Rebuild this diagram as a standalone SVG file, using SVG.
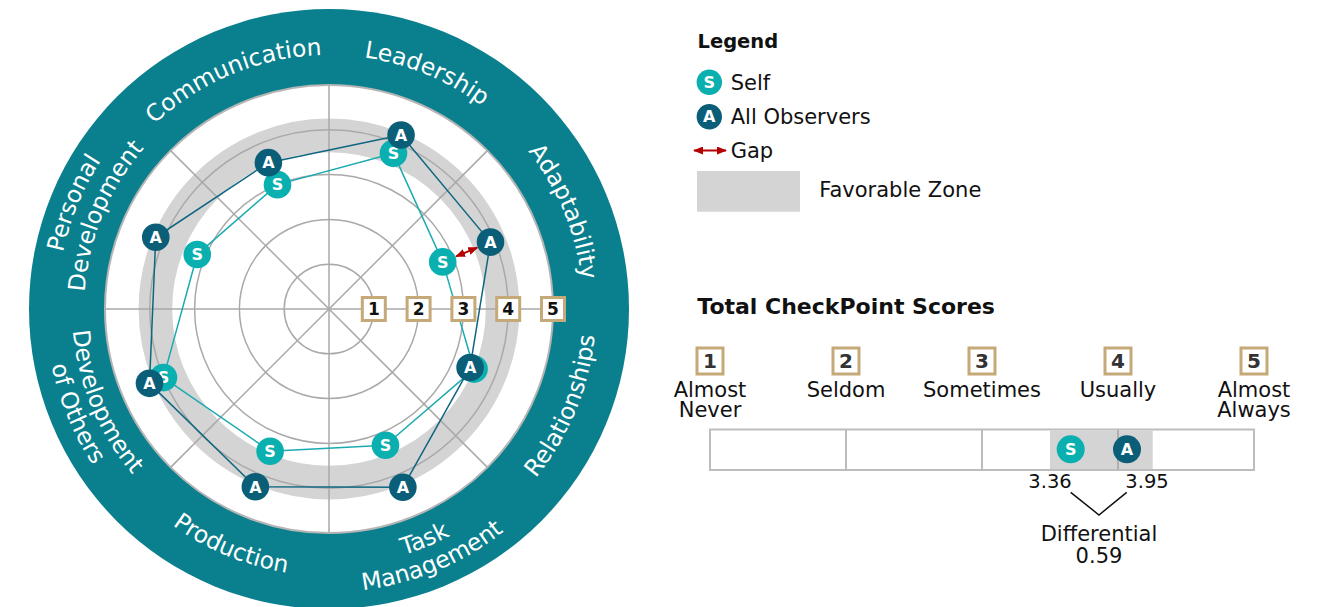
<svg xmlns="http://www.w3.org/2000/svg" width="1320" height="607" viewBox="0 0 1320 607">
<style>
.cat{font-family:"DejaVu Sans",sans-serif;font-size:23.5px;fill:#ffffff}
.ring{fill:none;stroke:#a9a9a9;stroke-width:1.5}
.spoke{stroke:#a9a9a9;stroke-width:1.5}
.mA{fill:#0b5e78}
.mS{fill:#0aafb0}
.mt{font-family:"DejaVu Sans",sans-serif;font-weight:bold;font-size:16px;fill:#ffffff;text-anchor:middle}
.box{fill:#ffffff;stroke:#c5a979;stroke-width:3}
.bn{font-family:"DejaVu Sans",sans-serif;font-weight:bold;font-size:17px;fill:#111111;text-anchor:middle}
.sbn{font-family:"DejaVu Sans",sans-serif;font-weight:bold;font-size:20px;fill:#333333;text-anchor:middle}
.txt{font-family:"DejaVu Sans",sans-serif;font-size:21px;fill:#111111}
.mid{text-anchor:middle}
.num{font-family:"DejaVu Sans",sans-serif;font-size:19.5px;fill:#111111;text-anchor:middle}
.hd{font-family:"DejaVu Sans",sans-serif;font-weight:bold;fill:#111111}
.lineA{fill:none;stroke:#0f6680;stroke-width:1.5;stroke-linejoin:round}
.lineS{fill:none;stroke:#1aabb0;stroke-width:1.5;stroke-linejoin:round}
.gap{stroke:#b40000;stroke-width:2;marker-start:url(#ah);marker-end:url(#ah)}
</style>
<defs>
<marker id="ah" viewBox="0 0 10 8" refX="9" refY="4" markerWidth="10" markerHeight="8" markerUnits="userSpaceOnUse" orient="auto-start-reverse">
<path d="M0,0 L10,4 L0,8 z" fill="#b40000"/>
</marker>
<path id="t254" d="M90.32,222.13 A254,254 0 0 1 567.68,222.13"/>
<path id="t272" d="M73.40,215.97 A272,272 0 0 1 584.60,215.97"/>
<path id="t245" d="M98.78,225.21 A245,245 0 0 1 559.22,225.21"/>
<path id="b267" d="M78.10,400.32 A267,267 0 0 0 579.90,400.32"/>
<path id="b257" d="M87.50,396.90 A257,257 0 0 0 570.50,396.90"/>
<path id="b283" d="M63.07,405.79 A283,283 0 0 0 594.93,405.79"/>
</defs>

<g id="wheel">
<circle cx="329" cy="309" r="300" fill="#0a7f8d"/>
<circle cx="329" cy="309" r="224" fill="#ffffff" stroke="#b5b5b5" stroke-width="2"/>
<circle cx="329" cy="309" r="173.6" fill="none" stroke="#d4d4d4" stroke-width="33.6"/>
<circle class="ring" cx="329" cy="309" r="44.8"/>
<circle class="ring" cx="329" cy="309" r="89.6"/>
<circle class="ring" cx="329" cy="309" r="134.4"/>
<circle class="ring" cx="329" cy="309" r="179.2"/>
<line class="spoke" x1="105" y1="309" x2="553" y2="309"/>
<line class="spoke" x1="329" y1="85" x2="329" y2="533"/>
<line class="spoke" x1="170.6" y1="150.6" x2="487.4" y2="467.4"/>
<line class="spoke" x1="487.4" y1="150.6" x2="170.6" y2="467.4"/>
</g>

<g id="category-labels">
<g id="label-leadership"><text class="cat" transform="rotate(22.5 329 309)"><textPath href="#t254" startOffset="50%" text-anchor="middle">Leadership</textPath></text></g>
<g id="label-adaptability"><text class="cat" transform="rotate(67.5 329 309)"><textPath href="#t254" startOffset="50%" text-anchor="middle">Adaptability</textPath></text></g>
<g id="label-communication"><text class="cat" transform="rotate(-22.5 329 309)"><textPath href="#t254" startOffset="50%" text-anchor="middle">Communication</textPath></text></g>
<g id="label-personal-development">
<text class="cat" transform="rotate(-67.5 329 309)"><textPath href="#t272" startOffset="50%" text-anchor="middle">Personal</textPath></text>
<text class="cat" transform="rotate(-67.5 329 309)"><textPath href="#t245" startOffset="50%" text-anchor="middle">Development</textPath></text>
</g>
<g id="label-relationships"><text class="cat" transform="rotate(-67.5 329 309)"><textPath href="#b267" startOffset="50%" text-anchor="middle">Relationships</textPath></text></g>
<g id="label-task-management">
<text class="cat" transform="rotate(-22.5 329 309)"><textPath href="#b257" startOffset="50%" text-anchor="middle">Task</textPath></text>
<text class="cat" transform="rotate(-22.5 329 309)"><textPath href="#b283" startOffset="50%" text-anchor="middle">Management</textPath></text>
</g>
<g id="label-production"><text class="cat" transform="rotate(22.5 329 309)"><textPath href="#b267" startOffset="50%" text-anchor="middle">Production</textPath></text></g>
<g id="label-development-of-others">
<text class="cat" transform="rotate(67.5 329 309)"><textPath href="#b257" startOffset="50%" text-anchor="middle">Development</textPath></text>
<text class="cat" transform="rotate(67.5 329 309)"><textPath href="#b283" startOffset="50%" text-anchor="middle">of Others</textPath></text>
</g>
</g>

<g id="connectors">
<polygon class="lineS" points="393.48,153.33 442.73,261.89 474.05,369.08 385.45,445.27 270.11,451.19 163.44,377.58 197.25,254.43 277.49,184.65"/>
<polygon class="lineA" points="401.06,135.03 490.49,242.11 470.08,367.44 402.86,487.31 255.37,486.75 149.49,383.35 155.77,237.25 268.38,162.66"/>
<line class="gap" x1="456" y1="256.4" x2="477.3" y2="247.6"/>
<line class="gap" x1="694" y1="150.5" x2="726" y2="150.5"/>
<polyline points="1070.7,492.3 1099,515 1126.7,492.3" fill="none" stroke="#111111" stroke-width="1.5"/>
</g>

<g id="self-markers">
<g id="s-leadership"><circle class="mS" cx="393.48" cy="153.33" r="13.8"/><text class="mt" x="393.48" y="159.13">S</text></g>
<g id="s-adaptability"><circle class="mS" cx="442.73" cy="261.89" r="13.8"/><text class="mt" x="442.73" y="267.69">S</text></g>
<g id="s-relationships"><circle class="mS" cx="474.05" cy="369.08" r="13.8"/><text class="mt" x="474.05" y="374.88">S</text></g>
<g id="s-task"><circle class="mS" cx="385.45" cy="445.27" r="13.8"/><text class="mt" x="385.45" y="451.07">S</text></g>
<g id="s-production"><circle class="mS" cx="270.11" cy="451.19" r="13.8"/><text class="mt" x="270.11" y="456.99">S</text></g>
<g id="s-devothers"><circle class="mS" cx="163.44" cy="377.58" r="13.8"/><text class="mt" x="163.44" y="383.38">S</text></g>
<g id="s-personal"><circle class="mS" cx="197.25" cy="254.43" r="13.8"/><text class="mt" x="197.25" y="260.23">S</text></g>
<g id="s-communication"><circle class="mS" cx="277.49" cy="184.65" r="13.8"/><text class="mt" x="277.49" y="190.45">S</text></g>
</g>

<g id="observer-markers">
<g id="a-leadership"><circle class="mA" cx="401.06" cy="135.03" r="13.8"/><text class="mt" x="401.06" y="140.83">A</text></g>
<g id="a-adaptability"><circle class="mA" cx="490.49" cy="242.11" r="13.8"/><text class="mt" x="490.49" y="247.91">A</text></g>
<g id="a-relationships"><circle class="mA" cx="470.08" cy="367.44" r="13.8"/><text class="mt" x="470.08" y="373.24">A</text></g>
<g id="a-task"><circle class="mA" cx="402.86" cy="487.31" r="13.8"/><text class="mt" x="402.86" y="493.11">A</text></g>
<g id="a-production"><circle class="mA" cx="255.37" cy="486.75" r="13.8"/><text class="mt" x="255.37" y="492.55">A</text></g>
<g id="a-devothers"><circle class="mA" cx="149.49" cy="383.35" r="13.8"/><text class="mt" x="149.49" y="389.15">A</text></g>
<g id="a-personal"><circle class="mA" cx="155.77" cy="237.25" r="13.8"/><text class="mt" x="155.77" y="243.05">A</text></g>
<g id="a-communication"><circle class="mA" cx="268.38" cy="162.66" r="13.8"/><text class="mt" x="268.38" y="168.46">A</text></g>
</g>

<g id="scale-boxes">
<g id="rb1"><rect class="box" x="362.3" y="297.5" width="23" height="23"/><text class="bn" x="373.8" y="315.2">1</text></g>
<g id="rb2"><rect class="box" x="407.1" y="297.5" width="23" height="23"/><text class="bn" x="418.6" y="315.2">2</text></g>
<g id="rb3"><rect class="box" x="451.9" y="297.5" width="23" height="23"/><text class="bn" x="463.4" y="315.2">3</text></g>
<g id="rb4"><rect class="box" x="496.7" y="297.5" width="23" height="23"/><text class="bn" x="508.2" y="315.2">4</text></g>
<g id="rb5"><rect class="box" x="541.5" y="297.5" width="23" height="23"/><text class="bn" x="553" y="315.2">5</text></g>
</g>

<g id="legend">
<text class="hd" x="697.5" y="48.3" font-size="19.5px">Legend</text>
<g id="legend-self"><circle class="mS" cx="709.3" cy="82.3" r="12.7"/><text class="mt" x="709.3" y="87.8" font-size="15px">S</text><text class="txt" x="730.7" y="90">Self</text></g>
<g id="legend-observers"><circle class="mA" cx="709.3" cy="116.7" r="12.7"/><text class="mt" x="709.3" y="122.2" font-size="15px">A</text><text class="txt" x="730.7" y="124">All Observers</text></g>
<g id="legend-gap"><text class="txt" x="730.7" y="157.5">Gap</text></g>
<g id="legend-zone"><rect x="697" y="171" width="103" height="40.7" fill="#d4d4d4"/><text class="txt" x="819.3" y="197.3">Favorable Zone</text></g>
</g>

<g id="total-scores">
<text class="hd" x="697.3" y="314" font-size="22px">Total CheckPoint Scores</text>
<g id="sb1"><rect class="box" x="697" y="348" width="26" height="26"/><text class="sbn" x="710" y="368.3">1</text><text class="txt mid" x="710" y="396.7">Almost</text><text class="txt mid" x="710" y="417.3">Never</text></g>
<g id="sb2"><rect class="box" x="833" y="348" width="26" height="26"/><text class="sbn" x="846" y="368.3">2</text><text class="txt mid" x="846" y="396.7">Seldom</text></g>
<g id="sb3"><rect class="box" x="969" y="348" width="26" height="26"/><text class="sbn" x="982" y="368.3">3</text><text class="txt mid" x="982" y="396.7">Sometimes</text></g>
<g id="sb4"><rect class="box" x="1105" y="348" width="26" height="26"/><text class="sbn" x="1118" y="368.3">4</text><text class="txt mid" x="1118" y="396.7">Usually</text></g>
<g id="sb5"><rect class="box" x="1241" y="348" width="26" height="26"/><text class="sbn" x="1254" y="368.3">5</text><text class="txt mid" x="1254" y="396.7">Almost</text><text class="txt mid" x="1254" y="417.3">Always</text></g>
<g id="score-bar">
<rect x="710" y="429.5" width="544" height="40.5" fill="#ffffff" stroke="#bdbdbd" stroke-width="2"/>
<rect x="1050" y="430.5" width="102.7" height="38.5" fill="#d4d4d4"/>
<line x1="846" y1="430" x2="846" y2="469.5" stroke="#bdbdbd" stroke-width="2"/>
<line x1="982" y1="430" x2="982" y2="469.5" stroke="#bdbdbd" stroke-width="2"/>
<line x1="1118" y1="430" x2="1118" y2="469.5" stroke="#b0b0b0" stroke-width="2"/>
</g>
<g id="bar-self"><circle class="mS" cx="1070.7" cy="449.3" r="14"/><text class="mt" x="1070.7" y="455.1">S</text></g>
<g id="bar-observers"><circle class="mA" cx="1127" cy="449.3" r="14"/><text class="mt" x="1127" y="455.1">A</text></g>
<text class="num" x="1050" y="488.3">3.36</text>
<text class="num" x="1147" y="488.3">3.95</text>
<text class="txt mid" x="1099" y="540.7">Differential</text>
<text class="txt mid" x="1099" y="562.7">0.59</text>
</g>
</svg>
